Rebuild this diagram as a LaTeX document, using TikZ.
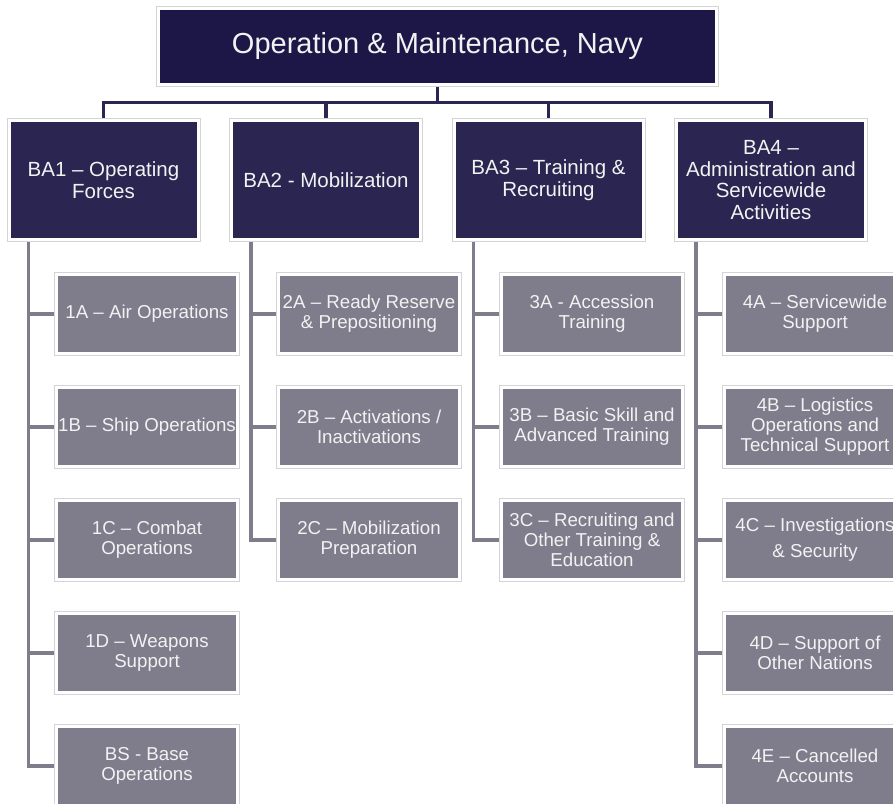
\documentclass[tikz,border=0pt]{standalone}
\usepackage{fontspec}
\setmainfont{Liberation Sans}
\definecolor{navytop}{HTML}{1D1747}
\definecolor{navyba}{HTML}{2B2551}
\definecolor{slatebox}{HTML}{7F7D8B}
\definecolor{rimgray}{HTML}{D4D4D8}
\definecolor{boxtext}{HTML}{F2F2F2}

\begin{document}
\begin{tikzpicture}[x=1pt,y=-1pt]
		\tikzstyle{every node}+=[inner sep=0pt, align=center, text=boxtext]
		\tikzstyle{framed}=[draw=white, line width=3pt, outer sep=2.5pt, preaction={draw=rimgray, line width=5pt}]
		\tikzstyle{rootbox}=[framed, fill=navytop, minimum width=558pt, minimum height=76pt, font=\fontsize{29}{34}\selectfont]
		\tikzstyle{babox}=[framed, fill=navyba, minimum width=189pt, minimum height=119pt, font=\fontsize{20.5}{21.5}\selectfont]
		\tikzstyle{itembox}=[framed, fill=slatebox, minimum width=181pt, minimum height=79pt, font=\fontsize{18.7}{20}\selectfont]
		\tikzstyle{balink}=[navyba, line width=3.5pt]
		\tikzstyle{itemlink}=[slatebox, line width=3.5pt]
		\useasboundingbox (0,0) rectangle (893,803);
		\clip (0,0) rectangle (893,803);
		\node [rootbox] (navy) at (437.5,46.5) {Operation \& Maintenance, Navy};
		\node [babox] (ba1) at (103.5,180) {BA1 – Operating\\Forces};
		\node [babox] (ba2) at (326,180) {BA2 - Mobilization};
		\node [babox] (ba3) at (548.5,180) {BA3 – Training \&\\Recruiting};
		\node [babox] (ba4) at (771,180) {BA4 –\\Administration and\\Servicewide\\Activities};
		\node [itembox] (s1a) at (147,314) {1A – Air Operations};
		\node [itembox] (s1b) at (147,427) {1B – Ship Operations};
		\node [itembox] (s1c) at (147,540) {1C – Combat\\Operations};
		\node [itembox] (s1d) at (147,653) {1D – Weapons\\Support};
		\node [itembox] (s1s) at (147,766) {BS - Base\\Operations};
		\node [itembox] (s2a) at (369,314) {2A – Ready Reserve\\\& Prepositioning};
		\node [itembox] (s2b) at (369,427) {2B – Activations /\\Inactivations};
		\node [itembox] (s2c) at (369,540) {2C – Mobilization\\Preparation};
		\node [itembox] (s3a) at (592,314) {3A - Accession\\Training};
		\node [itembox] (s3b) at (592,427) {3B – Basic Skill and\\Advanced Training};
		\node [itembox] (s3c) at (592,540) {3C – Recruiting and\\Other Training \&\\Education};
		\node [itembox] (s4a) at (815,314) {4A – Servicewide\\Support};
		\node [itembox] (s4b) at (815,427) {4B – Logistics\\Operations and\\Technical Support};
		\node [itembox] (s4c) at (815,540) {4C – Investigations\\[6pt]\& Security};
		\node [itembox] (s4d) at (815,653) {4D – Support of\\Other Nations};
		\node [itembox] (s4e) at (815,766) {4E – Cancelled\\Accounts};
		\draw [balink] (navy.south) -- ++(0,15.5) coordinate (hub);
		\draw [balink] (hub) -| (ba1.north);
		\draw [balink] (hub) -| (ba2.north);
		\draw [balink] (hub) -| (ba3.north);
		\draw [balink] (hub) -| (ba4.north);
		\foreach \s in {s1a,s1b,s1c,s1d,s1s}
			\draw [itemlink] ([xshift=22pt]ba1.south west) |- (\s.west);
		\foreach \s in {s2a,s2b,s2c}
			\draw [itemlink] ([xshift=22pt]ba2.south west) |- (\s.west);
		\foreach \s in {s3a,s3b,s3c}
			\draw [itemlink] ([xshift=22pt]ba3.south west) |- (\s.west);
		\foreach \s in {s4a,s4b,s4c,s4d,s4e}
			\draw [itemlink] ([xshift=22pt]ba4.south west) |- (\s.west);
	\end{tikzpicture}
\end{document}
